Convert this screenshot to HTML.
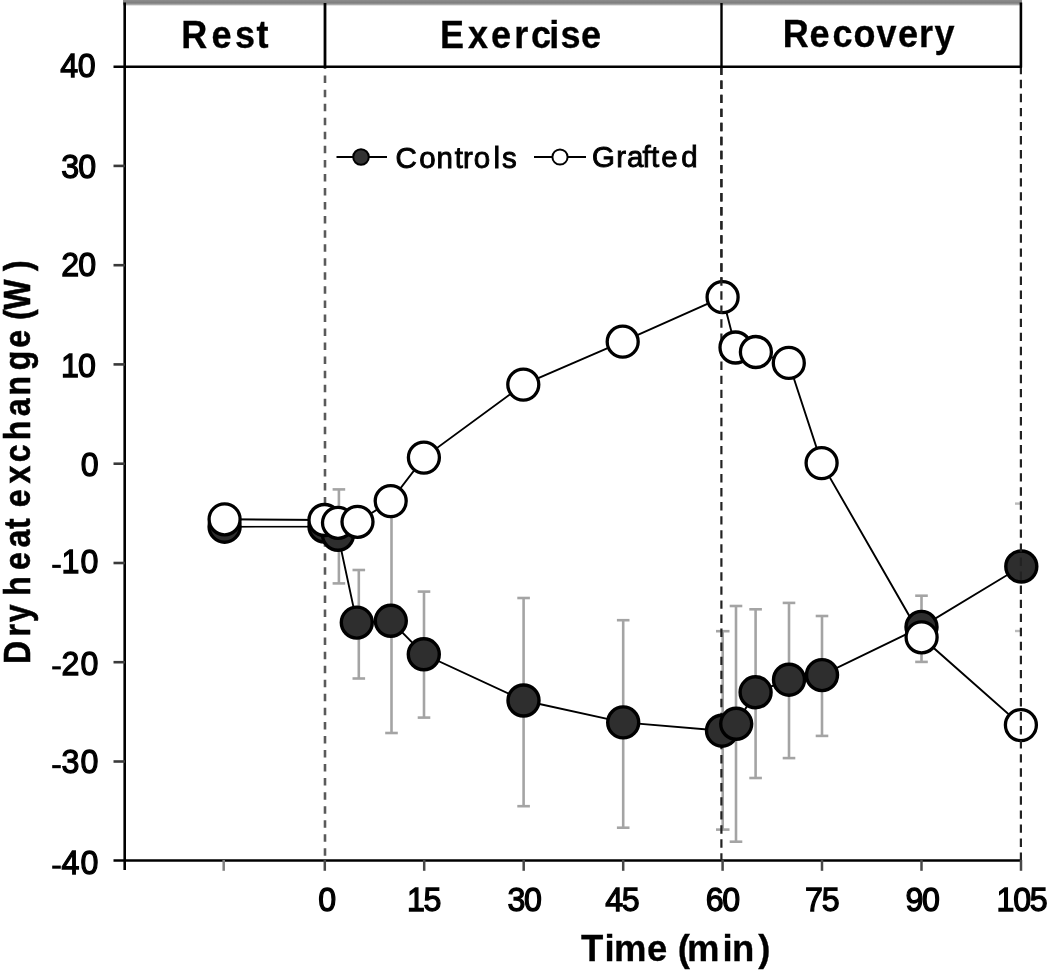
<!DOCTYPE html>
<html><head><meta charset="utf-8"><style>
html,body{margin:0;padding:0;background:#fff;width:1050px;height:971px;overflow:hidden}
svg{display:block;filter:grayscale(100%)}
</style></head><body>
<svg width="1050" height="971" viewBox="0 0 1050 971" font-family="'Liberation Sans', sans-serif">
<defs><linearGradient id="gb" x1="0" y1="0" x2="0" y2="1"><stop offset="0" stop-color="#8d8d8d"/><stop offset="0.45" stop-color="#7f7f7f"/><stop offset="0.7" stop-color="#999"/><stop offset="1" stop-color="#fff"/></linearGradient></defs>
<rect x="123" y="0" width="899" height="6" fill="url(#gb)"/>
<line x1="124.7" y1="2.5" x2="124.7" y2="870" stroke="#000" stroke-width="2.6"/>
<line x1="1020.9" y1="2.5" x2="1020.9" y2="67.5" stroke="#000" stroke-width="2.6"/>
<line x1="325" y1="3" x2="325" y2="67.5" stroke="#000" stroke-width="2.8"/>
<line x1="721.5" y1="3" x2="721.5" y2="67.5" stroke="#000" stroke-width="2.4"/>
<line x1="113.5" y1="66.7" x2="1022" y2="66.7" stroke="#000" stroke-width="2.6"/>
<text x="181.29 211.49 235.03 256.46" y="47.70" font-weight="bold" font-size="36" stroke="#000" stroke-width="0.3" transform="translate(0,47.70) scale(1,1.06) translate(0,-47.70)">Rest</text>
<text x="440.09 468.05 491.09 514.33 531.09 549.19 560.43 581.09" y="47.90" font-weight="bold" font-size="36" stroke="#000" stroke-width="0.3" transform="translate(0,47.90) scale(1,1.06) translate(0,-47.90)">Exercise</text>
<text x="782.79 809.59 832.39 853.39 876.56 898.09 919.03 934.52" y="46.90" font-weight="bold" font-size="36" stroke="#000" stroke-width="0.3" transform="translate(0,46.90) scale(1,1.06) translate(0,-46.90)">Recovery</text>
<line x1="113.5" y1="860.5" x2="1021.5" y2="860.5" stroke="#000" stroke-width="2.6"/>
<line x1="223.7" y1="860" x2="223.7" y2="870.8" stroke="#808080" stroke-width="2.5"/>
<line x1="324.8" y1="860" x2="324.8" y2="870.8" stroke="#484848" stroke-width="2.5"/>
<line x1="424.2" y1="860" x2="424.2" y2="870.8" stroke="#484848" stroke-width="2.5"/>
<line x1="523.7" y1="860" x2="523.7" y2="870.8" stroke="#484848" stroke-width="2.5"/>
<line x1="623.2" y1="860" x2="623.2" y2="870.8" stroke="#484848" stroke-width="2.5"/>
<line x1="722.6" y1="860" x2="722.6" y2="870.8" stroke="#484848" stroke-width="2.5"/>
<line x1="822.0" y1="860" x2="822.0" y2="870.8" stroke="#484848" stroke-width="2.5"/>
<line x1="921.5" y1="860" x2="921.5" y2="870.8" stroke="#484848" stroke-width="2.5"/>
<line x1="1021.0" y1="860" x2="1021.0" y2="870.8" stroke="#484848" stroke-width="2.5"/>
<line x1="113.5" y1="165.9" x2="125" y2="165.9" stroke="#3a3a3a" stroke-width="2.6"/>
<line x1="113.5" y1="265.2" x2="125" y2="265.2" stroke="#3a3a3a" stroke-width="2.6"/>
<line x1="113.5" y1="364.4" x2="125" y2="364.4" stroke="#3a3a3a" stroke-width="2.6"/>
<line x1="113.5" y1="463.7" x2="125" y2="463.7" stroke="#3a3a3a" stroke-width="2.6"/>
<line x1="113.5" y1="563.0" x2="125" y2="563.0" stroke="#3a3a3a" stroke-width="2.6"/>
<line x1="113.5" y1="662.2" x2="125" y2="662.2" stroke="#3a3a3a" stroke-width="2.6"/>
<line x1="113.5" y1="761.5" x2="125" y2="761.5" stroke="#3a3a3a" stroke-width="2.6"/>
<text x="95.50" y="77.10" text-anchor="end" font-size="35" letter-spacing="-0.3" stroke="#000" stroke-width="1.3" transform="translate(95.50,77.10) scale(0.92,0.975) translate(-95.50,-77.10)">40</text>
<text x="95.30" y="178.10" text-anchor="end" font-size="35" letter-spacing="-1.0" stroke="#000" stroke-width="1.3" transform="translate(95.30,178.10) scale(0.92,0.975) translate(-95.30,-178.10)">30</text>
<text x="95.30" y="276.10" text-anchor="end" font-size="35" letter-spacing="-1.0" stroke="#000" stroke-width="1.3" transform="translate(95.30,276.10) scale(0.92,0.975) translate(-95.30,-276.10)">20</text>
<text x="95.00" y="376.60" text-anchor="end" font-size="35" letter-spacing="-1.0" stroke="#000" stroke-width="1.3" transform="translate(95.00,376.60) scale(0.92,0.975) translate(-95.00,-376.60)">10</text>
<text x="97.70" y="475.60" text-anchor="end" font-size="35" letter-spacing="-1.0" stroke="#000" stroke-width="1.3" transform="translate(97.70,475.60) scale(0.92,0.975) translate(-97.70,-475.60)">0</text>
<rect x="52.2" y="564.80" width="8.6" height="3.1" fill="#000"/>
<text x="99.60" y="573.10" text-anchor="end" font-size="35" letter-spacing="1.2" stroke="#000" stroke-width="1.3" transform="translate(99.60,573.10) scale(0.92,0.975) translate(-99.60,-573.10)">10</text>
<rect x="52.2" y="666.30" width="8.6" height="3.1" fill="#000"/>
<text x="99.60" y="674.60" text-anchor="end" font-size="35" letter-spacing="1.2" stroke="#000" stroke-width="1.3" transform="translate(99.60,674.60) scale(0.92,0.975) translate(-99.60,-674.60)">20</text>
<rect x="52.2" y="765.10" width="8.6" height="3.1" fill="#000"/>
<text x="99.60" y="773.40" text-anchor="end" font-size="35" letter-spacing="1.2" stroke="#000" stroke-width="1.3" transform="translate(99.60,773.40) scale(0.92,0.975) translate(-99.60,-773.40)">30</text>
<rect x="52.2" y="865.60" width="8.6" height="3.1" fill="#000"/>
<text x="99.60" y="873.90" text-anchor="end" font-size="35" letter-spacing="1.2" stroke="#000" stroke-width="1.3" transform="translate(99.60,873.90) scale(0.92,0.975) translate(-99.60,-873.90)">40</text>
<text x="326.65" y="910.90" text-anchor="middle" font-size="35" letter-spacing="-1.4" stroke="#000" stroke-width="1.3" transform="translate(326.65,910.90) scale(0.92,0.975) translate(-326.65,-910.90)">0</text>
<text x="423.50" y="910.90" text-anchor="middle" font-size="35" letter-spacing="-1.4" stroke="#000" stroke-width="1.3" transform="translate(423.50,910.90) scale(0.92,0.975) translate(-423.50,-910.90)">15</text>
<text x="524.10" y="910.90" text-anchor="middle" font-size="35" letter-spacing="-1.4" stroke="#000" stroke-width="1.3" transform="translate(524.10,910.90) scale(0.92,0.975) translate(-524.10,-910.90)">30</text>
<text x="621.75" y="910.90" text-anchor="middle" font-size="35" letter-spacing="-1.4" stroke="#000" stroke-width="1.3" transform="translate(621.75,910.90) scale(0.92,0.975) translate(-621.75,-910.90)">45</text>
<text x="722.25" y="910.90" text-anchor="middle" font-size="35" letter-spacing="-1.4" stroke="#000" stroke-width="1.3" transform="translate(722.25,910.90) scale(0.92,0.975) translate(-722.25,-910.90)">60</text>
<text x="821.70" y="910.90" text-anchor="middle" font-size="35" letter-spacing="-1.4" stroke="#000" stroke-width="1.3" transform="translate(821.70,910.90) scale(0.92,0.975) translate(-821.70,-910.90)">75</text>
<text x="922.00" y="910.90" text-anchor="middle" font-size="35" letter-spacing="-1.4" stroke="#000" stroke-width="1.3" transform="translate(922.00,910.90) scale(0.92,0.975) translate(-922.00,-910.90)">90</text>
<text x="1021.45" y="910.90" text-anchor="middle" font-size="35" letter-spacing="-1.4" stroke="#000" stroke-width="1.3" transform="translate(1021.45,910.90) scale(0.92,0.975) translate(-1021.45,-910.90)">105</text>
<text x="581.09 604.45 614.09 647.07 652.07 677.68 687.09 722.45 732.09 758.26" y="960.90" font-weight="bold" font-size="36.5" stroke="#000" stroke-width="0.3" transform="translate(0,960.90) scale(1,1.0) translate(0,-960.90)">Time (min)</text>
<g transform="translate(29.9,663.9) rotate(-90) scale(1,1.18)"><text x="-0.14 27.39 41.65 46.65 68.07 93.95 116.36 135.01 140.01 156.75 180.48 201.65 223.57 247.76 268.39 293.69 316.15 343.91 354.07 392.97" y="0" font-weight="bold" font-size="32" stroke="#000" stroke-width="0.5">Dry heat exchange(W)</text></g>
<line x1="336.5" y1="157" x2="387" y2="157" stroke="#000" stroke-width="2"/>
<circle cx="361" cy="157" r="7.8" fill="#333" stroke="#000" stroke-width="2"/>
<line x1="534" y1="157" x2="586" y2="157" stroke="#000" stroke-width="2"/>
<circle cx="560" cy="157" r="7.6" fill="#fff" stroke="#000" stroke-width="2"/>
<text x="395.50 419.26 436.44 454.65 463.04 473.76 493.41 501.98" y="167.60" font-size="29.5" stroke="#000" stroke-width="0.9" transform="translate(0,167.60) scale(1,0.98) translate(0,-167.60)">Controls</text>
<text x="592.02 616.14 627.05 642.58 651.05 661.25 681.36" y="167.20" font-size="29.5" stroke="#000" stroke-width="0.9" transform="translate(0,167.20) scale(1,0.98) translate(0,-167.20)">Grafted</text>
<line x1="325" y1="68" x2="325" y2="860" stroke="#5a5a5a" stroke-width="2.6" stroke-dasharray="7.5 6.55" stroke-dashoffset="6.45"/>
<g stroke="#a4a4a4" stroke-width="2.6"><line x1="338.9" y1="489.4" x2="338.9" y2="583.4"/><line x1="332.59999999999997" y1="489.4" x2="345.2" y2="489.4"/><line x1="332.59999999999997" y1="583.4" x2="345.2" y2="583.4"/></g>
<g stroke="#a4a4a4" stroke-width="2.6"><line x1="358.8" y1="570" x2="358.8" y2="678.5"/><line x1="352.5" y1="570" x2="365.1" y2="570"/><line x1="352.5" y1="678.5" x2="365.1" y2="678.5"/></g>
<g stroke="#a4a4a4" stroke-width="2.6"><line x1="391.5" y1="495" x2="391.5" y2="733"/><line x1="385.2" y1="495" x2="397.8" y2="495"/><line x1="385.2" y1="733" x2="397.8" y2="733"/></g>
<g stroke="#a4a4a4" stroke-width="2.6"><line x1="424" y1="591.6" x2="424" y2="717.6"/><line x1="417.7" y1="591.6" x2="430.3" y2="591.6"/><line x1="417.7" y1="717.6" x2="430.3" y2="717.6"/></g>
<g stroke="#a4a4a4" stroke-width="2.6"><line x1="523.6" y1="598" x2="523.6" y2="806.2"/><line x1="517.3000000000001" y1="598" x2="529.9" y2="598"/><line x1="517.3000000000001" y1="806.2" x2="529.9" y2="806.2"/></g>
<g stroke="#a4a4a4" stroke-width="2.6"><line x1="623.2" y1="620.2" x2="623.2" y2="827.7"/><line x1="616.9000000000001" y1="620.2" x2="629.5" y2="620.2"/><line x1="616.9000000000001" y1="827.7" x2="629.5" y2="827.7"/></g>
<g stroke="#a4a4a4" stroke-width="2.6"><line x1="736" y1="606" x2="736" y2="841.7"/><line x1="729.7" y1="606" x2="742.3" y2="606"/><line x1="729.7" y1="841.7" x2="742.3" y2="841.7"/></g>
<g stroke="#a4a4a4" stroke-width="2.6"><line x1="755.6" y1="609.3" x2="755.6" y2="778"/><line x1="749.3000000000001" y1="609.3" x2="761.9" y2="609.3"/><line x1="749.3000000000001" y1="778" x2="761.9" y2="778"/></g>
<g stroke="#a4a4a4" stroke-width="2.6"><line x1="789" y1="602.9" x2="789" y2="758.1"/><line x1="782.7" y1="602.9" x2="795.3" y2="602.9"/><line x1="782.7" y1="758.1" x2="795.3" y2="758.1"/></g>
<g stroke="#a4a4a4" stroke-width="2.6"><line x1="822" y1="616" x2="822" y2="735.9"/><line x1="815.7" y1="616" x2="828.3" y2="616"/><line x1="815.7" y1="735.9" x2="828.3" y2="735.9"/></g>
<g stroke="#a4a4a4" stroke-width="2.6"><line x1="921.5" y1="595.7" x2="921.5" y2="661.9"/><line x1="915.2" y1="595.7" x2="927.8" y2="595.7"/><line x1="915.2" y1="661.9" x2="927.8" y2="661.9"/></g>
<g stroke="#a4a4a4" stroke-width="2.6"><line x1="722.7" y1="631.2" x2="722.7" y2="829.6"/><line x1="716" y1="631.2" x2="729.5" y2="631.2"/><line x1="716" y1="829.6" x2="729.5" y2="829.6"/></g>
<line x1="721.4" y1="68" x2="721.4" y2="860" stroke="#222" stroke-width="2.2" stroke-dasharray="8.4 5.65" stroke-dashoffset="1.45"/>
<polyline points="224.6,526.7 324.5,526.5 338,534.8 356.8,622.6 390.8,620.8 423.8,654.3 523.5,700.5 623.2,722.4 722,730.7 736.2,723.8 755.6,692.3 789,679.7 822,675.1 921.5,626.9 1021.3,566.5" fill="none" stroke="#000" stroke-width="1.9"/>
<polyline points="224.6,519.3 324.5,520 338,522.8 357.5,521.8 390.7,501.1 423.9,457.6 523.3,384.6 622.7,341.7 722.6,297.2 735.5,347.5 755.9,352 788.8,362.9 821.6,463.1 921.6,637.3 1020.9,725.1" fill="none" stroke="#000" stroke-width="1.9"/>
<line x1="1015" y1="503.6" x2="1020" y2="503.6" stroke="#bbb" stroke-width="2.4"/>
<line x1="1015" y1="631" x2="1020" y2="631" stroke="#bbb" stroke-width="2.4"/>
<line x1="240" y1="523.4" x2="308" y2="523.4" stroke="#fff" stroke-width="4.6"/>
<circle cx="224.6" cy="526.7" r="15.5" fill="#2e2e2e" stroke="#000" stroke-width="3.4"/>
<circle cx="324.5" cy="526.5" r="15.5" fill="#2e2e2e" stroke="#000" stroke-width="3.4"/>
<circle cx="338" cy="534.8" r="15.5" fill="#2e2e2e" stroke="#000" stroke-width="3.4"/>
<circle cx="356.8" cy="622.6" r="15.5" fill="#2e2e2e" stroke="#000" stroke-width="3.4"/>
<circle cx="390.8" cy="620.8" r="15.5" fill="#2e2e2e" stroke="#000" stroke-width="3.4"/>
<circle cx="423.8" cy="654.3" r="15.5" fill="#2e2e2e" stroke="#000" stroke-width="3.4"/>
<circle cx="523.5" cy="700.5" r="15.5" fill="#2e2e2e" stroke="#000" stroke-width="3.4"/>
<circle cx="623.2" cy="722.4" r="15.5" fill="#2e2e2e" stroke="#000" stroke-width="3.4"/>
<circle cx="722" cy="730.7" r="15.5" fill="#2e2e2e" stroke="#000" stroke-width="3.4"/>
<circle cx="736.2" cy="723.8" r="15.5" fill="#2e2e2e" stroke="#000" stroke-width="3.4"/>
<circle cx="755.6" cy="692.3" r="15.5" fill="#2e2e2e" stroke="#000" stroke-width="3.4"/>
<circle cx="789" cy="679.7" r="15.5" fill="#2e2e2e" stroke="#000" stroke-width="3.4"/>
<circle cx="822" cy="675.1" r="15.5" fill="#2e2e2e" stroke="#000" stroke-width="3.4"/>
<circle cx="921.5" cy="626.9" r="15.5" fill="#2e2e2e" stroke="#000" stroke-width="3.4"/>
<circle cx="1021.3" cy="566.5" r="15.5" fill="#2e2e2e" stroke="#000" stroke-width="3.4"/>
<circle cx="224.6" cy="519.3" r="15.5" fill="#fff" stroke="#000" stroke-width="3.3"/>
<circle cx="324.5" cy="520" r="15.5" fill="#fff" stroke="#000" stroke-width="3.3"/>
<circle cx="338" cy="522.8" r="15.5" fill="#fff" stroke="#000" stroke-width="3.3"/>
<circle cx="357.5" cy="521.8" r="15.5" fill="#fff" stroke="#000" stroke-width="3.3"/>
<circle cx="390.7" cy="501.1" r="15.5" fill="#fff" stroke="#000" stroke-width="3.3"/>
<circle cx="423.9" cy="457.6" r="15.5" fill="#fff" stroke="#000" stroke-width="3.3"/>
<circle cx="523.3" cy="384.6" r="15.5" fill="#fff" stroke="#000" stroke-width="3.3"/>
<circle cx="622.7" cy="341.7" r="15.5" fill="#fff" stroke="#000" stroke-width="3.3"/>
<circle cx="722.6" cy="297.2" r="15.5" fill="#fff" stroke="#000" stroke-width="3.3"/>
<circle cx="735.5" cy="347.5" r="15.5" fill="#fff" stroke="#000" stroke-width="3.3"/>
<circle cx="755.9" cy="352" r="15.5" fill="#fff" stroke="#000" stroke-width="3.3"/>
<circle cx="788.8" cy="362.9" r="15.5" fill="#fff" stroke="#000" stroke-width="3.3"/>
<circle cx="821.6" cy="463.1" r="15.5" fill="#fff" stroke="#000" stroke-width="3.3"/>
<circle cx="921.6" cy="637.3" r="15.5" fill="#fff" stroke="#000" stroke-width="3.3"/>
<circle cx="1020.9" cy="725.1" r="15.5" fill="#fff" stroke="#000" stroke-width="3.3"/>
<line x1="721.4" y1="68" x2="721.4" y2="320" stroke="#222" stroke-width="2.2" stroke-dasharray="8.4 5.65" stroke-dashoffset="1.45"/>
<line x1="1020.9" y1="68" x2="1020.9" y2="860" stroke="#222" stroke-width="2.2" stroke-dasharray="8.4 5.65" stroke-dashoffset="2.25"/>
</svg>
</body></html>
